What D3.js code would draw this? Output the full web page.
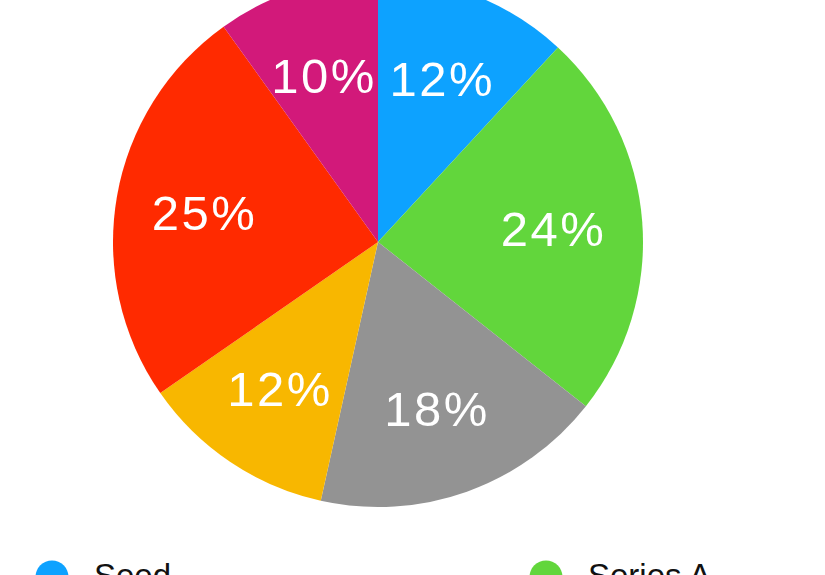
<!DOCTYPE html>
<html>
<head>
<meta charset="utf-8">
<script src="https://cdn.jsdelivr.net/npm/d3@7"></script>
<style>
  html, body { margin: 0; padding: 0; background: #fff; overflow: hidden; }
  text { font-family: "Liberation Sans", "Helvetica Neue", Arial, sans-serif; }
</style>
</head>
<body>
<div id="pieChart"></div>
<script>
// funding rounds, clockwise from 12 o'clock
var rounds = ['Seed', 'Series A', 'Series B', 'Series C', 'Series D', 'Series E'];
var shares = [12, 24, 18, 12, 25, 10];
var colors = ['#0DA2FF', '#62D63C', '#939393', '#F8B700', '#FF2A00', '#D2197A'];

var width = 825,
	height = 575;
var cx = 378,
	cy = 242,
	radius = 265,
	labelRadius = 176;

var svg = d3.select('#pieChart').append('svg')
			.attr('width', width)
			.attr('height', height);

var data = rounds.map(function(d, i) { return {key: d, value: shares[i]}; });

var color = d3.scaleOrdinal()
	.domain(rounds)
	.range(colors);

var pie = d3.pie()
	.sort(null)
	.value(function(d) { return d.value; });

var arc = d3.arc()
	.innerRadius(0)
	.outerRadius(radius);

var labelArc = d3.arc()
	.innerRadius(labelRadius)
	.outerRadius(labelRadius);

var g = svg.append('g')
	.attr('transform', 'translate(' + cx + ',' + cy + ')');

var slices = g.selectAll('.slice')
	.data(pie(data))
	.enter().append('g')
	.attr('class', 'slice');

slices.append('path')
	.attr('d', arc)
	.attr('fill', function(d) { return color(d.data.key); });

slices.append('text')
	.attr('transform', function(d) { return 'translate(' + labelArc.centroid(d) + ')'; })
	.attr('text-anchor', 'middle')
	.attr('dy', '0.37em')
	.attr('fill', '#fff')
	.style('font-size', '49px')
	.style('letter-spacing', '2.5px')
	.text(function(d) { return d.data.value + '%'; });

// legend: only the first row fits inside the frame
var legend = svg.selectAll('.legend-item')
	.data(data.slice(0, 2))
	.enter().append('g')
	.attr('class', 'legend-item')
	.attr('transform', function(d, i) {
		return 'translate(' + (i % 2 ? 546 : 52) + ',577)';
	});

legend.append('circle')
	.attr('r', 16.5)
	.attr('fill', function(d) { return color(d.key); });

legend.append('text')
	.attr('x', 42)
	.attr('y', 10)
	.attr('fill', '#111')
	.style('font-size', '33px')
	.text(function(d) { return d.key; });
</script>
</body>
</html>
